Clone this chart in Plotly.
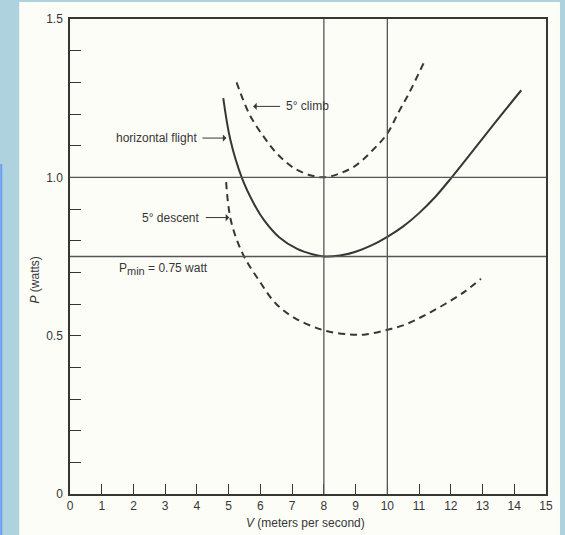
import plotly.graph_objects as go

# ---- data ----
horiz_V = [4.83, 5.05, 5.41, 5.80, 6.12, 6.59, 7.16, 7.64, 8.0, 8.5, 9.0, 9.5, 10.0, 10.5, 11.0, 11.5, 12.03, 12.65, 13.39, 14.22]
horiz_P = [1.25, 1.12, 1.0, 0.916, 0.864, 0.811, 0.774, 0.757, 0.75, 0.753, 0.765, 0.785, 0.812, 0.845, 0.887, 0.937, 1.0, 1.078, 1.172, 1.275]

climb_V = [5.25, 5.65, 6.12, 6.59, 7.11, 7.63, 8.0, 8.47, 9.0, 9.52, 9.99, 10.35, 10.67, 11.14]
climb_P = [1.30, 1.20, 1.126, 1.068, 1.026, 1.005, 1.0, 1.011, 1.037, 1.084, 1.137, 1.205, 1.263, 1.36]

desc_V = [4.92, 5.07, 5.44, 5.96, 6.49, 7.11, 8.0, 8.79, 9.31, 9.94, 10.56, 11.19, 11.82, 12.45, 12.95]
desc_P = [0.985, 0.864, 0.759, 0.674, 0.601, 0.554, 0.517, 0.504, 0.504, 0.517, 0.535, 0.565, 0.600, 0.640, 0.68]

ref_V = [8, 10]
ref_P = [0.75, 1.0]

x_ticks = list(range(0, 16))
y_major = [0, 0.5, 1.0, 1.5]
y_labels = ["0", "0.5", "1.0", "1.5"]
y_minor_step = 0.1

INK = "#363636"
PANEL = "#fdfdf8"
BG = "#aed3df"

fig = go.Figure()
fig.add_trace(go.Scatter(x=horiz_V, y=horiz_P, mode="lines", line=dict(color=INK, width=2, shape="spline"), showlegend=False))
fig.add_trace(go.Scatter(x=climb_V, y=climb_P, mode="lines", line=dict(color=INK, width=2, shape="spline", dash="7px,5px"), showlegend=False))
fig.add_trace(go.Scatter(x=desc_V, y=desc_P, mode="lines", line=dict(color=INK, width=2, shape="spline", dash="7px,5px"), showlegend=False))

shapes = [
    dict(type="rect", xref="paper", yref="paper", x0=-0.1067, x1=1.0293, y0=-0.0861, y1=1.0357,
         fillcolor=PANEL, line=dict(width=0), layer="below"),
    dict(type="rect", xref="paper", yref="paper", x0=-0.1465, x1=-0.1423, y0=-0.0861, y1=0.695,
         fillcolor="#6a9cf5", line=dict(width=0), layer="below"),
]
for v in ref_V:
    shapes.append(dict(type="line", xref="x", yref="paper", x0=v, x1=v, y0=0, y1=1,
                       line=dict(color="#555", width=1.3)))
for p in ref_P:
    shapes.append(dict(type="line", xref="paper", yref="y", x0=0, x1=1, y0=p, y1=p,
                       line=dict(color="#555", width=1.3)))

font = dict(family="Liberation Sans, Arial, sans-serif", size=12, color=INK)
arrow = dict(showarrow=True, arrowhead=1, arrowsize=1.2, arrowwidth=1, arrowcolor=INK, borderpad=5)

annotations = [
    # labels with their arrows (arrow tip in data coords, label offset in pixels)
    dict(x=4.93, y=1.124, xref="x", yref="y", ax=-70, ay=0, text="horizontal flight", font=font, **arrow),
    dict(x=5.77, y=1.224, xref="x", yref="y", ax=54, ay=0, text="5° climb", font=font, **arrow),
    dict(x=5.02, y=0.873, xref="x", yref="y", ax=-58, ay=0, text="5° descent", font=font, **arrow),
    dict(x=1.47, y=0.709, xref="x", yref="y",
         text="P<sub><span style='font-size:11px'>min</span></sub> = 0.75 watt",
         showarrow=False, xanchor="left", yanchor="middle", font=font),
    # axis titles
    dict(x=0.494, y=-0.061, xref="paper", yref="paper", text="<i>V</i> (meters per second)", showarrow=False, xanchor="center", yanchor="middle", font=font),
    dict(x=-0.073, y=0.45, xref="paper", yref="paper", text="<i>P</i> (watts)", showarrow=False, textangle=-90, xanchor="center", yanchor="middle", font=font),
]

fig.update_layout(
    width=565, height=535,
    margin=dict(l=70, r=17, t=18, b=41),
    paper_bgcolor=BG, plot_bgcolor=PANEL,
    font=font,
    shapes=shapes,
    annotations=annotations,
    xaxis=dict(range=[0, 15], tickvals=x_ticks, ticktext=[str(t) for t in x_ticks], ticks="inside", ticklen=10,
               tickcolor=INK, tickwidth=1.3, showgrid=False, zeroline=False, showline=True, linecolor=INK,
               linewidth=1.5, mirror=True, tickfont=font),
    yaxis=dict(range=[0, 1.5], tickvals=y_major, ticktext=y_labels, ticks="inside", ticklabelstandoff=3,
               ticklen=11, tickcolor=INK, tickwidth=1.3, showgrid=False, zeroline=False, showline=True,
               linecolor=INK, linewidth=1.5, mirror=True, tickfont=font,
               minor=dict(dtick=y_minor_step, tick0=0, ticks="inside", ticklen=11, tickcolor=INK, tickwidth=1.3, showgrid=False)),
)

fig.write_html("out.html", config={"displayModeBar": False},
               post_script="document.body.style.margin='0';document.body.style.padding='0';")
